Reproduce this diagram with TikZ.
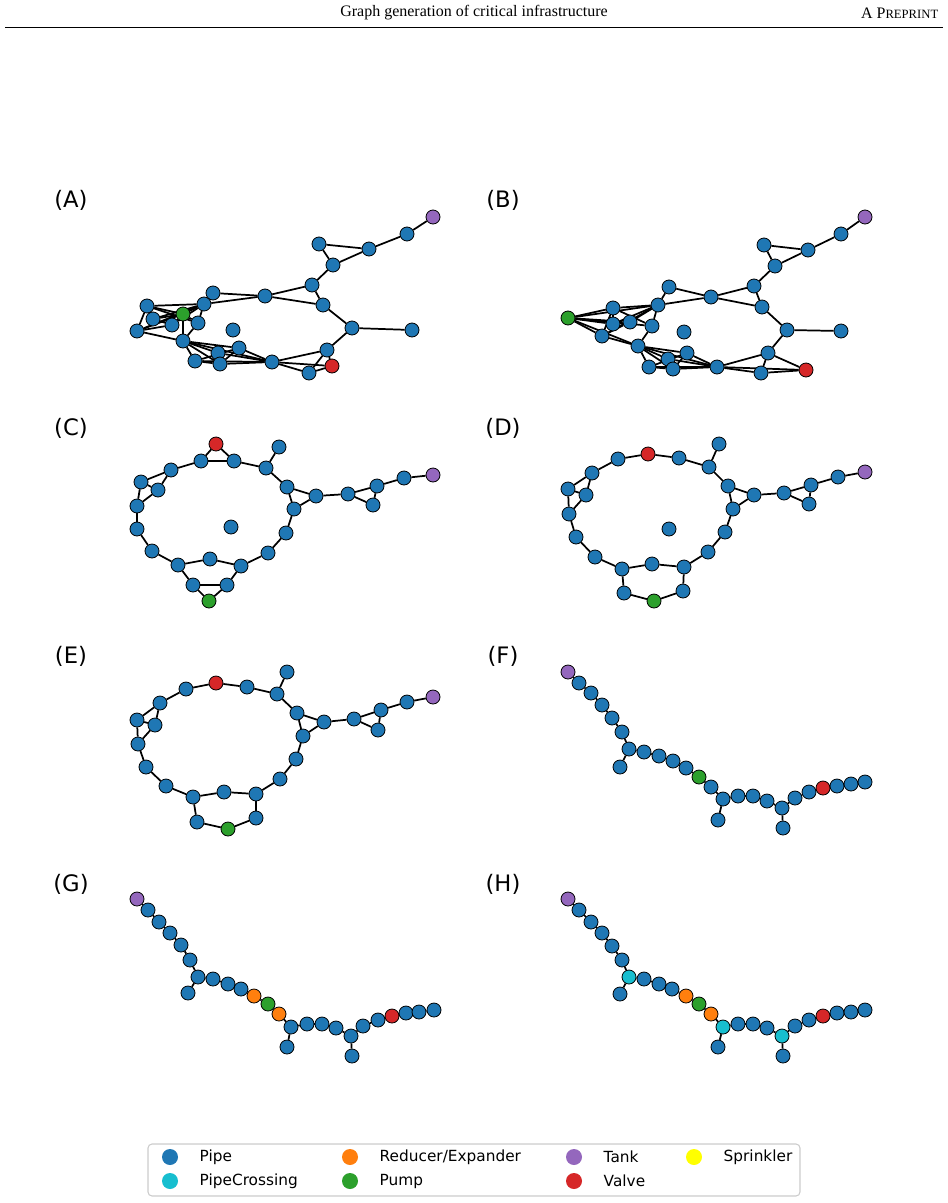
\documentclass[tikz,border=0pt]{standalone}
\usepackage{fontspec}
\setmainfont{Liberation Serif}
\newfontfamily\djsans{DejaVu Sans}
\usetikzlibrary{backgrounds}
\definecolor{P}{HTML}{1F77B4}
\definecolor{O}{HTML}{FF7F0E}
\definecolor{G}{HTML}{2CA02C}
\definecolor{R}{HTML}{D62728}
\definecolor{U}{HTML}{9467BD}
\definecolor{C}{HTML}{17BECF}
\definecolor{Y}{HTML}{FFFF00}
\tikzset{vtx/.style={circle,draw=black,line width=0.6pt,minimum size=10.5pt,inner sep=0pt},
edge/.style={line width=1.3pt,black},
plabel/.style={font=\djsans\fontsize{17}{19}\selectfont,anchor=center},
lmark/.style={circle,minimum size=12pt,inner sep=0pt},
ltext/.style={font=\djsans\fontsize{11.5}{13}\selectfont,anchor=west}}
\begin{document}
\begin{tikzpicture}[x=0.75pt,y=-0.75pt]
\useasboundingbox (0,0) rectangle (948,1203);
% header
\node[font=\fontsize{12}{14}\selectfont] (hd) at (474,13) {Graph generation of critical infrastructure};
\node[font=\fontsize{12}{14}\selectfont,anchor=east] (pp) at (943,13) {A P{\fontsize{9.5}{11}\selectfont REPRINT}};
\draw[line width=0.6pt] (5,27) -- (943,27);
% labels
\foreach \n/\t/\x/\y in {la/A/71/200,lb/B/503/200,lc/C/71/428,ld/D/503/428,le/E/71/656,lf/F/503/656,lg/G/71/884,lh/H/503/884}
  \node[plabel] (\n) at (\x,\y) {(\t)};
% nodes
\foreach \n/\x/\y/\c in {
a1/433/217/U,a2/407/234/P,a3/369/249/P,a4/319/244/P,a5/333/265/P,a6/312/285/P,a7/323/305/P,a8/352/328/P,a9/412/330/P,a10/327/350/P,a11/332/366/R,a12/309/373/P,a13/272/362/P,a14/265/296/P,a15/213/293/P,a16/204/304/P,a17/183/314/G,a18/147/306/P,a19/153/319/P,a20/172/325/P,a21/198/323/P,a22/137/331/P,a23/183/341/P,a24/233/330/P,a25/239/348/P,a26/218/353/P,a27/195/361/P,a28/220/364/P,
b1/865/217/U,b2/841/234/P,b3/808/250/P,b4/764/245/P,b5/775/266/P,b6/754/286/P,b7/762/307/P,b8/787/330/P,b9/841/331/P,b10/768/353/P,b11/806/370/R,b12/761/373/P,b13/717/367/P,b14/711/297/P,b15/669/287/P,b16/658/305/P,b17/568/318/G,b18/613/308/P,b19/613/324/P,b20/630/322/P,b21/652/326/P,b22/602/336/P,b23/638/346/P,b24/684/332/P,b25/687/353/P,b26/668/359/P,b27/649/367/P,b28/673/369/P,
c1/216/444/R,c2/201/461/P,c3/234/461/P,c4/279/447/P,c5/266/468/P,c6/171/470/P,c7/141/482/P,c8/158/490/P,c9/137/506/P,c10/137/529/P,c11/152/551/P,c12/178/565/P,c13/210/559/P,c14/241/566/P,c15/193/585/P,c16/227/585/P,c17/209/601/G,c18/268/553/P,c19/286/533/P,c20/294/509/P,c21/287/487/P,c22/316/496/P,c23/348/494/P,c24/377/486/P,c25/373/505/P,c26/404/478/P,c27/433/475/U,c28/231/527/P,
d1/648/454/R,d2/618/459/P,d3/679/458/P,d4/719/444/P,d5/709/467/P,d6/592/473/P,d7/568/489/P,d8/586/495/P,d9/569/514/P,d10/576/537/P,d11/595/557/P,d12/622/569/P,d13/652/564/P,d14/684/567/P,d15/624/593/P,d16/683/591/P,d17/654/601/G,d18/708/552/P,d19/725/532/P,d20/733/509/P,d21/728/486/P,d22/754/495/P,d23/784/493/P,d24/811/485/P,d25/809/504/P,d26/838/477/P,d27/865/472/U,d28/669/529/P,
e1/216/683/R,e2/186/689/P,e3/247/687/P,e4/287/672/P,e5/277/694/P,e6/160/703/P,e7/137/720/P,e8/155/725/P,e9/138/744/P,e10/146/767/P,e11/166/786/P,e12/193/797/P,e13/224/792/P,e14/256/794/P,e15/197/822/P,e16/256/818/P,e17/228/829/G,e18/280/779/P,e19/296/759/P,e20/303/736/P,e21/297/713/P,e22/324/722/P,e23/354/719/P,e24/381/710/P,e25/378/730/P,e26/407/702/P,e27/433/697/U,
f1/568/672/U,f2/579/683/P,f3/591/693/P,f4/602/705/P,f5/612/718/P,f6/622/732/P,f7/629/749/P,f8/620/767/P,f9/644/752/P,f10/659/756/P,f11/673/761/P,f12/686/768/P,f13/699/777/G,f14/711/787/P,f15/723/799/P,f16/718/820/P,f17/738/796/P,f18/753/796/P,f19/767/801/P,f20/782/808/P,f21/783/828/P,f22/795/798/P,f23/809/792/P,f24/823/788/R,f25/837/786/P,f26/851/784/P,f27/865/782/P,
g1/137/899/U,g2/148/910/P,g3/159/922/P,g4/170/933/P,g5/181/945/P,g6/190/960/P,g7/198/977/P,g8/188/993/P,g9/213/979/P,g10/228/984/P,g11/241/989/P,g12/254/996/O,g13/268/1004/G,g14/279/1014/O,g15/291/1027/P,g16/287/1047/P,g17/307/1024/P,g18/322/1024/P,g19/336/1028/P,g20/351/1036/P,g21/352/1056/P,g22/363/1026/P,g23/378/1020/P,g24/392/1016/R,g25/406/1013/P,g26/419/1012/P,g27/434/1010/P,
h1/568/899/U,h2/579/910/P,h3/591/922/P,h4/602/933/P,h5/612/946/P,h6/622/960/P,h7/629/977/C,h8/620/994/P,h9/644/979/P,h10/659/984/P,h11/672/989/P,h12/686/996/O,h13/699/1004/G,h14/711/1014/O,h15/723/1027/C,h16/718/1047/P,h17/738/1024/P,h18/753/1024/P,h19/767/1028/P,h20/782/1036/C,h21/783/1056/P,h22/795/1026/P,h23/809/1020/P,h24/823/1016/R,h25/837/1013/P,h26/851/1012/P,h27/865/1010/P}
  \node[vtx,fill=\c] (\n) at (\x,\y) {};
\begin{scope}[on background layer]
\foreach \p in {a,b}{
\foreach \i/\j in {1/2,2/3,3/4,4/5,3/5,5/6,6/14,6/7,14/7,7/8,8/9,8/10,10/13,10/11,10/12,11/12,13/12,13/11,14/15,14/16,15/16,16/21,16/17,18/17,18/16,18/21,18/19,18/22,19/17,19/16,20/17,20/16,22/17,22/16,22/20,22/23,19/20,17/23,21/23,17/21,23/26,23/27,23/28,23/25,23/13,25/13,26/13,27/13,28/13,25/28,26/28,25/27,27/28}
  \draw[edge] (\p\i) -- (\p\j);}
\foreach \i/\j in {1/2,1/3,2/3,2/6,3/5,5/4,5/21,6/7,6/8,7/8,7/9,8/9,9/10,10/11,11/12,12/13,13/14,12/15,15/16,15/17,16/17,14/16,14/18,18/19,19/20,20/21,21/22,20/22,22/23,23/24,23/25,24/25,24/26,26/27}
  \draw[edge] (c\i) -- (c\j);
\foreach \p in {d,e}{
\foreach \i/\j in {6/2,2/1,1/3,3/5,5/4,5/21,6/7,6/8,7/8,7/9,8/9,9/10,10/11,11/12,12/13,13/14,12/15,15/17,17/16,16/14,14/18,18/19,19/20,20/21,21/22,20/22,22/23,23/24,23/25,24/25,24/26,26/27}
  \draw[edge] (\p\i) -- (\p\j);}
\foreach \p in {f,g,h}{
\foreach \i/\j in {1/2,2/3,3/4,4/5,5/6,6/7,7/8,7/9,9/10,10/11,11/12,12/13,13/14,14/15,15/16,15/17,17/18,18/19,19/20,20/21,20/22,22/23,23/24,24/25,25/26,26/27}
  \draw[edge] (\p\i) -- (\p\j);}
\end{scope}
% legend
\draw[rounded corners=3pt,draw=black!20,line width=0.8pt,fill=white] (148,1144) rectangle (800,1196);
\foreach \n/\x/\y/\c/\t in {k1/170/1157/P/Pipe,k2/170/1181/C/PipeCrossing,k3/350/1157/O/Reducer\slash Expander,k4/350/1181/G/Pump,k5/574/1157/U/Tank,k6/574/1181/R/Valve,k7/694/1157/Y/Sprinkler}{
  \node[lmark,fill=\c] (\n) at (\x,\y) {};
  \node[ltext] (\n t) at (\x+25,\y) {\t};}
\end{tikzpicture}
\end{document}
